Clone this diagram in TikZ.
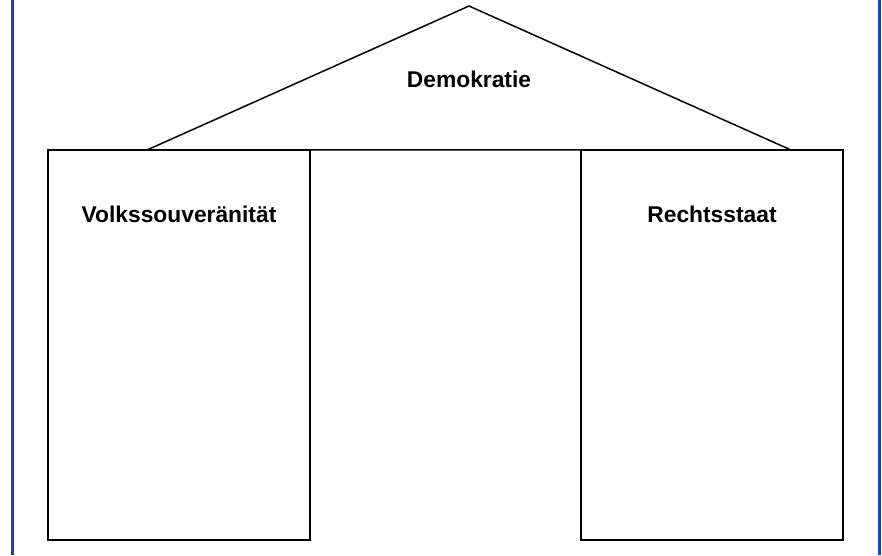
\documentclass[tikz,border=0pt]{standalone}
\usepackage{fontspec}
\setmainfont{Liberation Sans}
\begin{document}
\begin{tikzpicture}[x=1pt,y=1pt,
  frameline/.style={draw={rgb,255:red,28;green,70;blue,165}, line width=3pt},
  pillar/.style={draw=black, line width=1.5pt, minimum width=262pt, minimum height=390pt, inner sep=0pt},
  roofline/.style={draw=black, line width=1.5pt, line join=miter},
  caption/.style={font=\bfseries\fontsize{22.8}{26}\selectfont, inner sep=0pt}
]
\useasboundingbox (0,0) rectangle (882,555);
% side frame lines
\draw[frameline] (12,0) -- (12,555);
\draw[frameline] (879,0) -- (879,555);
% roof
\coordinate (apex) at (469,549);
\coordinate (eaveL) at (147,405);
\coordinate (eaveR) at (791,405);
\draw[roofline] (eaveL) -- (apex) -- (eaveR) -- cycle;
% pillars
\node[pillar] (left) at (179,210) {};
\node[pillar] (right) at (712,210) {};
% labels
\node[caption, anchor=base] (demo) at (469,467) {Demokratie};
\node[caption, anchor=base] (volk) at (179,333) {Volkssouveränität};
\node[caption, anchor=base] (recht) at (712,333) {Rechtsstaat};
\end{tikzpicture}
\end{document}
